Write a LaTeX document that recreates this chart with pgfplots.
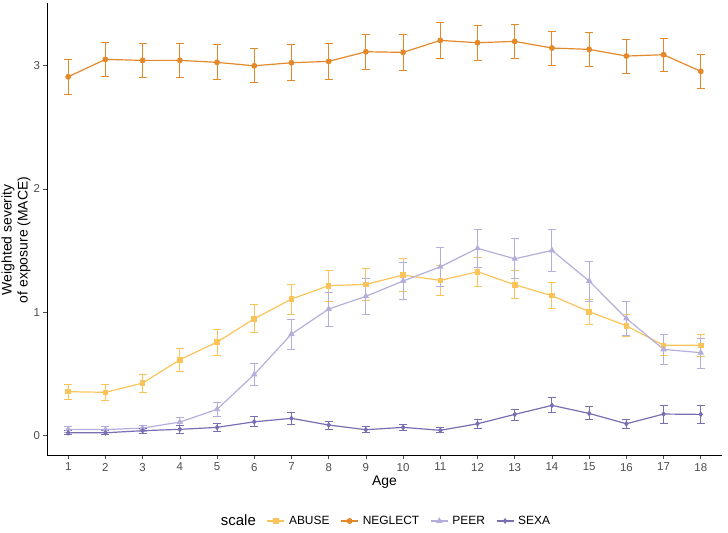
\documentclass[border=0pt]{standalone}
\usepackage{fontspec}
\setmainfont{Liberation Sans}
\usepackage{pgfplots}
\pgfplotsset{compat=1.18}
\usepackage{pgfplotstable}
\definecolor{cAbuse}{HTML}{FBC45A}
\definecolor{cNeglect}{HTML}{E4892A}
\definecolor{cPeer}{HTML}{B4AEDA}
\definecolor{cSexa}{HTML}{7B6DB2}
\definecolor{tickgrey}{HTML}{4D4D4D}

\pgfplotstableread{
x y ep em
1 0.357 0.062 0.062
2 0.352 0.064 0.065
3 0.427 0.070 0.073
4 0.616 0.092 0.094
5 0.759 0.100 0.107
6 0.948 0.114 0.110
7 1.108 0.121 0.124
8 1.216 0.125 0.130
9 1.227 0.130 0.130
10 1.302 0.135 0.135
11 1.259 0.124 0.124
12 1.329 0.118 0.118
13 1.224 0.114 0.114
14 1.135 0.105 0.106
15 1.005 0.097 0.100
16 0.891 0.090 0.089
17 0.733 0.089 0.079
18 0.733 0.086 0.087
}\abuse

\pgfplotstableread{
x y ep em
1 2.909 0.138 0.140
2 3.050 0.138 0.141
3 3.042 0.140 0.138
4 3.042 0.140 0.138
5 3.026 0.143 0.141
6 2.998 0.141 0.137
7 3.023 0.146 0.143
8 3.034 0.143 0.146
9 3.112 0.143 0.146
10 3.107 0.143 0.146
11 3.204 0.143 0.143
12 3.185 0.141 0.143
13 3.196 0.140 0.141
14 3.142 0.138 0.138
15 3.131 0.135 0.135
16 3.077 0.135 0.138
17 3.088 0.132 0.135
18 2.953 0.135 0.138
}\neglect

\pgfplotstableread{
x y ep em
1 0.052 0.027 0.028
2 0.050 0.025 0.025
3 0.062 0.025 0.027
4 0.111 0.035 0.030
5 0.214 0.053 0.060
6 0.497 0.090 0.089
7 0.824 0.116 0.124
8 1.027 0.132 0.138
9 1.130 0.145 0.144
10 1.254 0.150 0.152
11 1.369 0.160 0.160
12 1.519 0.156 0.156
13 1.434 0.162 0.162
14 1.502 0.170 0.170
15 1.254 0.156 0.168
16 0.951 0.135 0.136
17 0.700 0.122 0.125
18 0.673 0.119 0.124
}\peer

\pgfplotstableread{
x y ep em
1 0.024 0.016 0.016
2 0.024 0.016 0.016
3 0.041 0.021 0.021
4 0.052 0.029 0.032
5 0.068 0.029 0.030
6 0.113 0.044 0.034
7 0.141 0.049 0.046
8 0.087 0.032 0.033
9 0.049 0.024 0.025
10 0.068 0.027 0.024
11 0.044 0.020 0.017
12 0.097 0.033 0.035
13 0.173 0.043 0.046
14 0.246 0.060 0.060
15 0.181 0.054 0.048
16 0.097 0.038 0.040
17 0.176 0.073 0.073
18 0.173 0.070 0.076
}\sexa

\begin{document}
\begin{tikzpicture}
\begin{axis}[
  name=ax, at={(0,0)}, anchor=south west,
  scale only axis, width=675bp, height=452bp,
  xmin=0.43, xmax=18.57, ymin=-0.156, ymax=3.507,
  axis lines=left,
  axis line style={-, black, line width=0.9bp},
  xtick={1,...,18}, ytick={0,1,2,3},
  tick align=outside, major tick length=3.5bp,
  tick style={color=tickgrey, line width=0.6bp},
  ticklabel style={font=\fontsize{11.5}{13}\selectfont, text=tickgrey},
  /pgf/number format/assume math mode=true,
  xticklabel style={yshift=-1bp},
  xlabel={Age},
  xlabel style={font=\fontsize{14}{16}\selectfont, yshift=2bp},
  ylabel={Weighted severity\\of exposure (MACE)},
  ylabel style={font=\fontsize{14}{16}\selectfont, align=center,
    at={(axis description cs:-0.046,0.476)}, anchor=center},
  legend style={at={(0.5,-0.146)}, anchor=center, legend columns=-1, draw=none,
    font=\fontsize{12}{14}\selectfont,
    /tikz/every odd column/.append style={column sep=2bp},
    /tikz/every even column/.append style={column sep=9bp}},
  legend cell align=left,
  every axis plot/.append style={line width=1.2bp},
]
\addlegendimage{empty legend}
\addlegendentry{\fontsize{15}{17}\selectfont scale}

\addplot[color=cAbuse, mark=square*, mark size=2.2bp,
  error bars/.cd, y dir=both, y explicit,
  error bar style={line width=1bp, color=cAbuse},
  error mark options={rotate=90, mark size=4bp, line width=1bp, color=cAbuse}]
  table[x=x, y=y, y error plus=ep, y error minus=em]{\abuse};
\addlegendentry{ABUSE}

\addplot[color=cNeglect, mark=*, mark size=2.3bp,
  error bars/.cd, y dir=both, y explicit,
  error bar style={line width=1bp, color=cNeglect},
  error mark options={rotate=90, mark size=4bp, line width=1bp, color=cNeglect}]
  table[x=x, y=y, y error plus=ep, y error minus=em]{\neglect};
\addlegendentry{NEGLECT}

\addplot[color=cPeer, mark=triangle*, mark size=2.6bp,
  error bars/.cd, y dir=both, y explicit,
  error bar style={line width=1bp, color=cPeer},
  error mark options={rotate=90, mark size=4bp, line width=1bp, color=cPeer}]
  table[x=x, y=y, y error plus=ep, y error minus=em]{\peer};
\addlegendentry{PEER}

\addplot[color=cSexa, mark=diamond*, mark size=2.0bp,
  error bars/.cd, y dir=both, y explicit,
  error bar style={line width=1bp, color=cSexa},
  error mark options={rotate=90, mark size=4bp, line width=1bp, color=cSexa}]
  table[x=x, y=y, y error plus=ep, y error minus=em]{\sexa};
\addlegendentry{SEXA}
\end{axis}
\pgfresetboundingbox
\path[use as bounding box] ([xshift=-47bp,yshift=-78bp]ax.south west) rectangle ([xshift=6bp,yshift=3bp]ax.north east);
\end{tikzpicture}
\end{document}
